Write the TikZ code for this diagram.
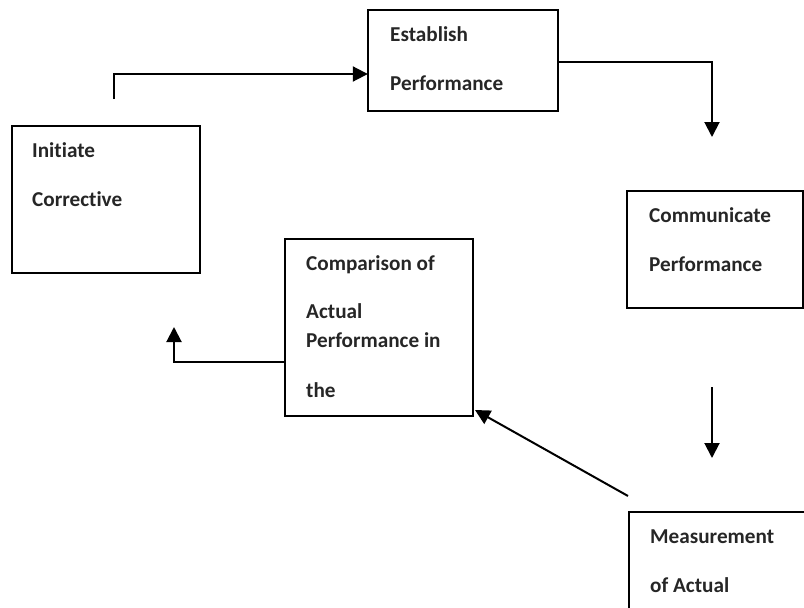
\documentclass[tikz,border=0pt]{standalone}
\usepackage{fontspec}
\setmainfont{Carlito}[Ligatures={NoCommon}]
\usetikzlibrary{arrows.meta}
\begin{document}
\begin{tikzpicture}[x=1pt,y=-1pt,
  box/.style={draw=black,line width=2pt},
  lbl/.style={anchor=base west,inner sep=0pt,font=\fontsize{21.2}{25}\selectfont\bfseries,text=black!85},
  conn/.style={line width=2pt,-{Triangle[length=15pt,width=15pt]}}]
\useasboundingbox (0,0) rectangle (804,608);
% boxes
\draw[box] (368,10) rectangle (558,111);
\draw[box] (12,126) rectangle (200,273);
\draw[box] (627,191) rectangle (803,308);
\draw[box] (285,239) rectangle (473,416);
\draw[box] (629,512) rectangle (810,615);
% named box nodes (invisible)
\node[inner sep=0pt,minimum width=190pt,minimum height=101pt] (establish) at (463,60.5) {};
\node[inner sep=0pt,minimum width=188pt,minimum height=147pt] (initiate) at (106,199.5) {};
\node[inner sep=0pt,minimum width=176pt,minimum height=117pt] (communicate) at (715,249.5) {};
\node[inner sep=0pt,minimum width=188pt,minimum height=177pt] (comparison) at (379,327.5) {};
\node[inner sep=0pt,minimum width=181pt,minimum height=103pt] (measurement) at (719.5,563.5) {};
% texts
\node[lbl] (t1) at (390,41.5) {Establish};
\node[lbl] (t2) at (390,90.5) {Performance};
\node[lbl] (t3) at (32,157) {Initiate};
\node[lbl] (t4) at (32,206) {Corrective};
\node[lbl] (t5) at (649,222) {Communicate};
\node[lbl] (t6) at (649,271) {Performance};
\node[lbl] (t7) at (306,270) {Comparison of};
\node[lbl] (t8) at (306,318) {Actual};
\node[lbl] (t9) at (306,347) {Performance in};
\node[lbl] (t10) at (306,397) {the};
\node[lbl] (t11) at (650,543) {Measurement};
\node[lbl] (t12) at (650,592) {of Actual};
% connector coordinates
\coordinate (a1) at (114,99);
\coordinate (a1b) at (114,74);
\coordinate (a2b) at (712,62);
\coordinate (a2e) at (712,137);
\coordinate (a3) at (712,387);
\coordinate (a3e) at (712,458);
\coordinate (a4) at (628,496);
\coordinate (a4e) at (475,410);
\coordinate (a5) at (285,362);
\coordinate (a5b) at (174,362);
\coordinate (a5e) at (174,327);
% connectors
\draw[conn] (a1) -- (a1b) -- (establish.west |- a1b);
\draw[conn] (establish.east |- a2b) -- (a2b) -- (a2e);
\draw[conn] (a3) -- (a3e);
\draw[conn] (a4) -- (a4e);
\draw[conn] (comparison.west |- a5) -- (a5b) -- (a5e);
\end{tikzpicture}
\end{document}
